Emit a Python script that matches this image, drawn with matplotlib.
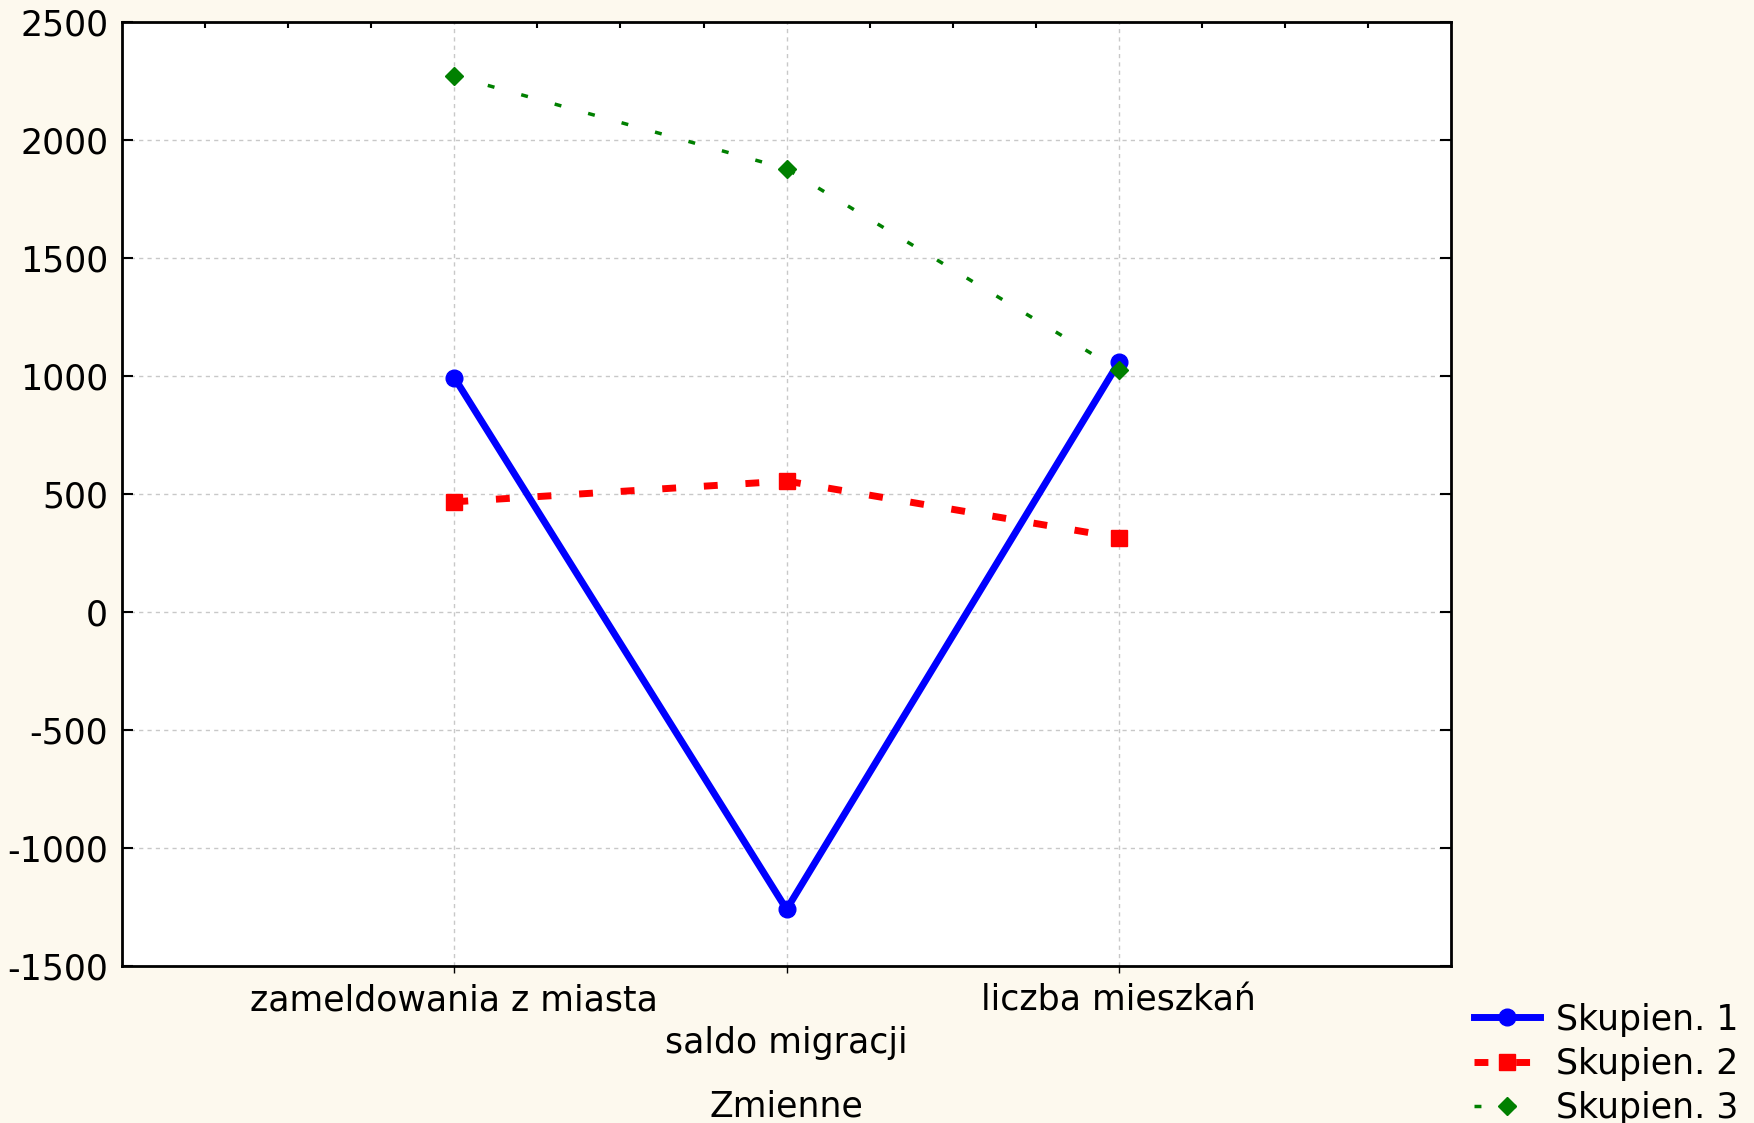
import matplotlib.pyplot as plt

# data
categories = ["zameldowania z miasta", "saldo migracji", "liczba mieszkań"]
skupien1 = [993, -1260, 1058]
skupien2 = [467, 555, 315]
skupien3 = [2271, 1878, 1025]
yticks = [2500, 2000, 1500, 1000, 500, 0, -500, -1000, -1500]

plt.rcParams['font.family'] = ['DejaVu Sans']
plt.rcParams['axes.unicode_minus'] = False
fs = 25

bg = '#fdf9ee'
fig = plt.figure(figsize=(17.54, 11.23), dpi=100, facecolor=bg)
ax = fig.add_axes([0.0696, 0.1398, 0.7577, 0.8406])
ax.set_facecolor('white')

x = [1, 2, 3]
ax.plot(x, skupien1, color='#0000ff', lw=5, marker='o', ms=12,
        label='Skupien. 1', zorder=3)
ax.plot(x, skupien2, color='#ff0000', lw=5, marker='s', ms=12,
        dashes=(2, 4), label='Skupien. 2', zorder=4)
ax.plot(x, skupien3, color='#008000', lw=2.5, marker='D', ms=9,
        dashes=(2, 8), label='Skupien. 3', zorder=5)

ax.set_xlim(0, 4)
ax.set_ylim(-1500, 2500)
ax.set_yticks(yticks)
ax.set_xticks(x)
ax.set_xticklabels([])
ax.grid(True, color='#c8c8c8', ls=(0, (3, 3)), lw=1)

ax.tick_params(axis='y', direction='in', length=8, width=1.5,
               labelsize=fs, pad=10, right=True)
ax.tick_params(axis='x', direction='out', length=5, width=1)
ax.set_xticks([0.25, 0.5, 0.75, 1.25, 1.5, 1.75, 2.25, 2.5, 2.75,
               3.25, 3.5, 3.75], minor=True)
ax.tick_params(axis='x', which='minor', top=True, bottom=False,
               direction='in', length=4, width=1.5)
for s in ax.spines.values():
    s.set_linewidth(2)
    s.set_color('black')

# staggered category labels
tr = ax.get_xaxis_transform()
rows = [-0.037, -0.0816, -0.037]
for xi, lab, yy in zip(x, categories, rows):
    ax.text(xi, yy, lab, transform=tr, ha='center', va='center',
            fontsize=fs)
ax.text(2, -0.149, 'Zmienne', transform=tr, ha='center', va='center',
        fontsize=fs)

fig.legend(loc='center left', bbox_to_anchor=(0.8404, 0.0525),
           frameon=False, fontsize=fs, handlelength=1.9,
           handletextpad=0.45, labelspacing=0.3, borderpad=0,
           borderaxespad=0, numpoints=1)

fig.savefig('out.png', dpi=100, facecolor=bg)
